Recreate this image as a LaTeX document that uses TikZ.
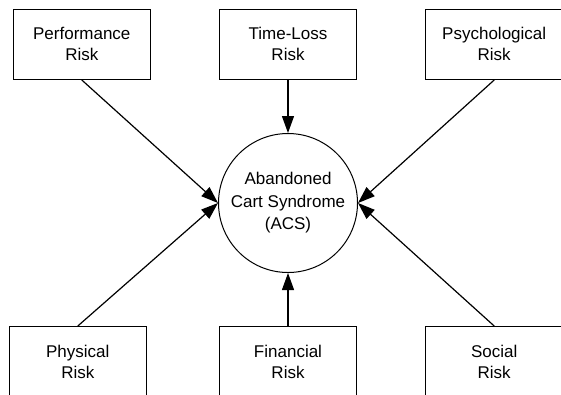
\documentclass[tikz,border=0pt]{standalone}
\usepackage{fontspec}
\setmainfont{Liberation Sans}
\usetikzlibrary{positioning,arrows.meta}
\tikzset{
  riskbox/.style={draw=black, minimum width=137pt, minimum height=70pt, align=center,
    inner sep=2pt, font=\fontsize{17}{21}\selectfont, line width=1.2pt},
  core/.style={draw=black, circle, minimum size=139pt, align=center, inner sep=0pt,
    font=\fontsize{17}{22.5}\selectfont, line width=1pt},
  flow/.style={-{Triangle[length=17pt,width=12pt]}, line width=1.2pt},
}
\begin{document}
\begin{tikzpicture}[x=1pt, y=1pt, node distance=53pt and 68pt]
  \useasboundingbox (0,-394) rectangle (561,0);
  \node[core] (acs) at (288,-203) {Abandoned\\Cart Syndrome\\(ACS)};
  \node[riskbox, above=of acs] (time) {Time-Loss\\Risk};
  \node[riskbox, left=of time] (perf) {Performance\\Risk};
  \node[riskbox, right=of time] (psych) {Psychological\\Risk};
  \node[riskbox, below=of acs] (fin) {Financial\\Risk};
  \node[riskbox, left=72pt of fin] (phys) {Physical\\Risk};
  \node[riskbox, right=of fin] (soc) {Social\\Risk};
  \draw[flow] (perf.south) -- (acs.west);
  \draw[flow] (time.south) -- (acs.north);
  \draw[flow] (psych.south) -- (acs.east);
  \draw[flow] (phys.north) -- (acs.west);
  \draw[flow] (fin.north) -- (acs.south);
  \draw[flow] (soc.north) -- (acs.east);
\end{tikzpicture}
\end{document}
